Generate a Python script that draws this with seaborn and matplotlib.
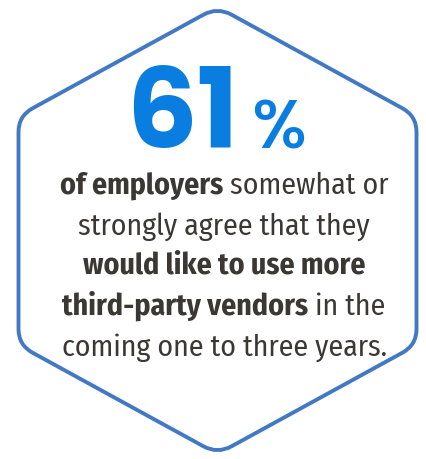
import matplotlib
matplotlib.use("Agg")
import matplotlib.pyplot as plt
import seaborn as sns
from matplotlib.path import Path
from matplotlib.patches import PathPatch
from matplotlib import font_manager
import numpy as np

# ---- data / text content ----
stat_value = ["61"]
stat_unit = ["%"]
line_segments = [
    [("of employers", True), ("somewhat or", False)],
    [("strongly agree that they", False)],
    [("would like to use more", True)],
    [("third-party vendors", True), ("in the", False)],
    [("coming one to three years.", False)],
]

sns.set_theme(style="white")
fl = font_manager.fontManager.ttflist
names = {f.name for f in fl}

def pick(cands):
    for c in cands:
        if c in names:
            return c
    return "DejaVu Sans"

def pick_heavy(cands):
    for c in cands:
        ws = [f.weight for f in fl if f.name == c]
        ws = [w if isinstance(w, int) else font_manager.weight_dict.get(w, 400) for w in ws]
        if any(w >= 800 for w in ws):
            return c
    return "DejaVu Sans"

body_font = pick(["Fira Sans Condensed", "PT Sans Narrow", "Asap Condensed", "Archivo Narrow",
                  "Roboto Condensed", "Barlow Semi Condensed", "Liberation Sans"])
num_font = pick_heavy(["League Spartan", "Spartan", "Poppins", "Prompt", "Kumbh Sans",
                       "Montserrat", "Lato"])
plt.rcParams["font.family"] = [body_font, "DejaVu Sans"]

W, H = 426, 460
fig = plt.figure(figsize=(W / 100, H / 100), dpi=100)
ax = fig.add_axes([0, 0, 1, 1])
ax.set_xlim(0, W)
ax.set_ylim(H, 0)
ax.axis("off")

# ---- hexagon with rounded corners ----
cx, top, bot = 217.5, 8.0, 455.0
left, right = 18.5, 416.5
y_up, y_lo = 117.0, 346.0
verts = [(cx, top), (right, y_up), (right, y_lo), (cx, bot), (left, y_lo), (left, y_up)]
r = 16.0
pts, codes = [], []
n = len(verts)
for i in range(n):
    p = np.array(verts[i])
    prev = np.array(verts[i - 1])
    nxt = np.array(verts[(i + 1) % n])
    a = p + (prev - p) / np.linalg.norm(prev - p) * r
    b = p + (nxt - p) / np.linalg.norm(nxt - p) * r
    pts.append(tuple(a)); codes.append(Path.MOVETO if i == 0 else Path.LINETO)
    pts.append(tuple(p)); codes.append(Path.CURVE3)
    pts.append(tuple(b)); codes.append(Path.CURVE3)
pts.append(pts[0]); codes.append(Path.LINETO)
ax.add_patch(PathPatch(Path(pts, codes), facecolor="white", edgecolor="#4379c3", lw=2.8, joinstyle="round"))

fig.canvas.draw()
renderer = fig.canvas.get_renderer()

def text_width(s, **kw):
    t = ax.text(0, 0, s, **kw)
    w = t.get_window_extent(renderer).width
    t.remove()
    return w

# ---- big number ----
blue = "#0a7ee0"
num_kw = dict(fontsize=80, fontweight="bold", family=[num_font, "DejaVu Sans"], color=blue)
pct_kw = dict(fontsize=50, fontweight="medium", family=[num_font, "DejaVu Sans"], color=blue)
wn = text_width(stat_value[0], **num_kw)
wp = text_width(stat_unit[0], **pct_kw)
gap = 12
x0 = 216 - (wn + gap + wp) / 2
ax.text(x0, 148, stat_value[0], ha="left", va="baseline", **num_kw)
ax.text(x0 + wn + gap, 149, stat_unit[0], ha="left", va="baseline", **pct_kw)

# ---- body text ----
dark = "#3b3733"
base_fs = 20.0

def line_width(segs, fs):
    ws = [text_width(s, fontsize=fs, fontweight="bold" if b else "normal") for s, b in segs]
    sp = text_width("a a", fontsize=fs) - text_width("aa", fontsize=fs)
    return ws, sp, sum(ws) + sp * (len(segs) - 1)

_, _, w1 = line_width(line_segments[0], base_fs)
_, _, w4 = line_width(line_segments[3], base_fs)
fs = base_fs * (328 + 325) / (w1 + w4)

baselines = [194, 235, 274, 315, 356]
for segs, yb in zip(line_segments, baselines):
    widths, sp, total = line_width(segs, fs)
    x = 224 - total / 2
    for (s, b), w in zip(segs, widths):
        ax.text(x, yb, s, fontsize=fs, fontweight="bold" if b else "normal",
                color=dark, ha="left", va="baseline")
        x += w + sp

fig.savefig("out.png", dpi=100)
